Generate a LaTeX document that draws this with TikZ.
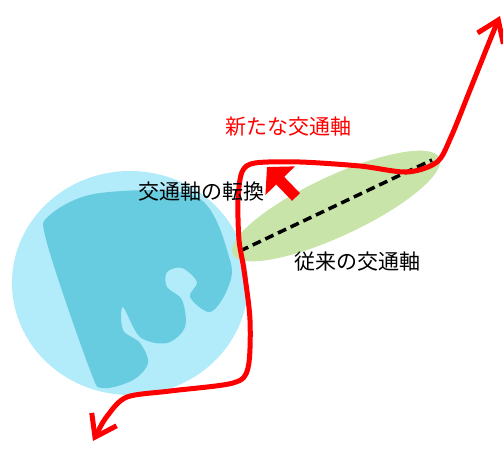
\documentclass[tikz,border=0pt]{standalone}
\usepackage{fontspec}
\setmainfont{Noto Sans CJK JP}
\usepackage{tikz}
\usetikzlibrary{arrows.meta}

\definecolor{sea}{RGB}{178,235,250}
\definecolor{land}{RGB}{104,204,224}
\definecolor{belt}{RGB}{200,228,168}

\tikzset{
    label/.style={font=\fontsize{21}{21}\selectfont, inner sep=0pt},
    route/.style={red, line width=5pt, line cap=round, line join=round},
}

\begin{document}
\begin{tikzpicture}[x=1pt,y=-1pt]
    \useasboundingbox (0,0) rectangle (503,448);
    \fill[sea] (130,283) ellipse [x radius=118, y radius=112];
    \fill[land] plot[smooth cycle, tension=0.55] coordinates {
        (50,215) (100,193) (197,197) (230,260) (227,290) (210,312) (190,297)
        (197,282) (182,268) (167,272) (167,287) (182,300) (185,327) (167,343)
        (140,337) (123,307) (123,330) (140,343) (148,363) (133,380) (103,388)
        (90,370) (47,243)};
    \fill[belt, rotate around={25:(336,206)}] (336,206) ellipse [x radius=114, y radius=30];
    \draw[line width=3.5pt, dash pattern=on 9pt off 5pt] (240,251) -- (432,160);
    \draw[route, {Straight Barb[length=20pt, width=28pt]}-{Straight Barb[length=20pt, width=28pt]}]
        plot[smooth, tension=0.5] coordinates {
        (93,441) (108,415) (127,397) (170,391) (233,383) (248,368) (250,320)
        (244,270) (239,240) (238,200) (242,172) (255,163) (300,162) (360,166)
        (407,172) (437,162) (451,137) (470,90) (490,40) (500,16)};
    \draw[red, line width=11pt, -{Triangle[length=19pt, width=40pt]}] (296,197) -- (267,167);
    \node[label, red] (newaxis) at (288,127) {新たな交通軸};
    \node[label] (shift) at (201,192) {交通軸の転換};
    \node[label] (oldaxis) at (357,262) {従来の交通軸};
\end{tikzpicture}
\end{document}
